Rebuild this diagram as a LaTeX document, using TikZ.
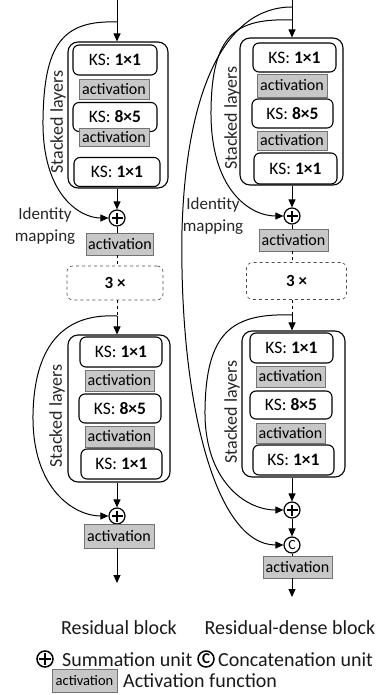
\documentclass[tikz,border=0pt]{standalone}
\usepackage{fontspec}
\setmainfont{Carlito}
\usetikzlibrary{arrows.meta}
\tikzset{
  ksbox/.style 2 args={draw, line width=1.1pt, rounded corners=6pt, fill=white, minimum width=#1, minimum height=#2, inner sep=0pt, font=\fontsize{17.5}{19}\selectfont},
  actbox/.style 2 args={draw=black!55, line width=0.8pt, fill=black!22, minimum width=#1, minimum height=#2, inner sep=0pt, font=\fontsize{16}{17}\selectfont},
  outerbox/.style 2 args={draw, line width=1.1pt, rounded corners=10pt, minimum width=#1, minimum height=#2, inner sep=0pt},
  repbox/.style 2 args={draw=black!70, dashed, line width=0.6pt, rounded corners=6pt, minimum width=#1, minimum height=#2, inner sep=0pt, font=\fontsize{17}{19}\selectfont\bfseries},
  unit/.style={circle, draw, line width=1.2pt, minimum size=16pt, inner sep=0pt, fill=white},
  stacklbl/.style={rotate=90, font=\fontsize{18}{20}\selectfont, text=black!85},
  idlbl/.style={align=center, font=\fontsize{17}{22}\selectfont, text=black!85},
  arr/.style={-{Triangle[length=8pt,width=7pt]}, line width=1pt},
  conn/.style={line width=1pt},
  dconn/.style={line width=0.8pt, dashed},
  legend/.style={font=\fontsize{20}{22}\selectfont, text=black!90}
}
\newcommand{\plusmark}[1]{\draw[line width=1.2pt] ([xshift=-5.5pt]#1.center) -- ([xshift=5.5pt]#1.center) ([yshift=-5.5pt]#1.center) -- ([yshift=5.5pt]#1.center);}
\begin{document}
\begin{tikzpicture}[x=1pt,y=-1pt]
\useasboundingbox (0,0) rectangle (384,695);

% ===== Left column, block 1 =====
\node[outerbox={100pt}{146pt}] (o1) at (118,115) {};
\node[ksbox={84pt}{30pt}] (k1a) at (115,60) {KS: \textbf{1×1}};
\node[actbox={70pt}{20pt}] (a1a) at (114,89) {activation};
\node[ksbox={84pt}{29pt}] (k1b) at (115,117) {KS: \textbf{8×5}};
\node[actbox={70pt}{18pt}] (a1b) at (114,137) {activation};
\node[ksbox={86pt}{29pt}] (k1c) at (117,172) {KS: \textbf{1×1}};
\node[stacklbl] (s1) at (58,122) {Stacked layers};
\node[unit] (p1) at (117,218) {};
\plusmark{p1}
\node[idlbl] (id1) at (45,226) {Identity\\mapping};
\node[actbox={67pt}{22pt}] (al1) at (120,244) {activation};
\node[repbox={96pt}{34pt}] (r1) at (115,283) {3 ×};

\coordinate (t1) at (117,0);
\coordinate (c1) at (117,22);
\draw[arr] (t1) -- (c1 |- o1.north);
\draw[arr] (c1) .. controls (62,20) and (44,45) .. (43,120) .. controls (42,195) and (80,218) .. (p1.west);
\draw[arr] (p1 |- o1.south) -- (p1.north);
\draw[conn] (p1.south) -- (p1 |- al1.north);
\draw[dconn] (p1 |- al1.south) -- (p1 |- r1.north);

% ===== Left column, block 2 =====
\node[outerbox={102pt}{147pt}] (o2) at (119,408.5) {};
\node[ksbox={82pt}{30pt}] (k2a) at (121,352) {KS: \textbf{1×1}};
\node[actbox={69pt}{21pt}] (a2a) at (119.5,380.5) {activation};
\node[ksbox={82pt}{29pt}] (k2b) at (120,408.5) {KS: \textbf{8×5}};
\node[actbox={69pt}{21pt}] (a2b) at (119.5,436.5) {activation};
\node[ksbox={81pt}{30pt}] (k2c) at (121.5,464) {KS: \textbf{1×1}};
\node[stacklbl] (s2) at (57,416) {Stacked layers};
\node[unit] (p2) at (117,516) {};
\plusmark{p2}
\node[actbox={70pt}{24pt}] (al2) at (119,536) {activation};
\coordinate (c2) at (117,316);
\coordinate (e1) at (117,583);
\draw[dconn] (p1 |- r1.south) -- (c2);
\draw[arr] (c2) -- (c2 |- o2.north);
\draw[arr] (c2) .. controls (60,313) and (34,350) .. (33,415) .. controls (32,490) and (75,516) .. (p2.west);
\draw[arr] (p2 |- o2.south) -- (p2.north);
\draw[arr] (p2 |- al2.south) -- (e1);

% ===== Right column, block 1 =====
\node[outerbox={103pt}{147pt}] (o3) at (291.5,111.5) {};
\node[ksbox={83pt}{29pt}] (k3a) at (294.5,57.5) {KS: \textbf{1×1}};
\node[actbox={70pt}{23pt}] (a3a) at (292,85.5) {activation};
\node[ksbox={81pt}{29pt}] (k3b) at (292.5,113.5) {KS: \textbf{8×5}};
\node[actbox={70pt}{19pt}] (a3b) at (292,140.5) {activation};
\node[ksbox={83pt}{31pt}] (k3c) at (295.5,168.5) {KS: \textbf{1×1}};
\node[stacklbl] (s3) at (232,118) {Stacked layers};
\node[unit] (p3) at (292,216) {};
\plusmark{p3}
\node[idlbl] (id2) at (213,216) {Identity\\mapping};
\node[actbox={69pt}{22pt}] (ar1) at (293.5,240) {activation};
\node[repbox={100pt}{37pt}] (r2) at (296.5,281) {3 ×};

\coordinate (t2) at (292,0);
\coordinate (c3) at (292,20);
\coordinate (c4) at (292,7);
\draw[arr] (t2) -- (t2 |- o3.north);
\draw[arr] (c3) .. controls (235,18) and (212,35) .. (211,110) .. controls (210,190) and (250,216) .. (p3.west);
\draw[arr] (p3 |- o3.south) -- (p3.north);
\draw[conn] (p3.south) -- (p3 |- ar1.north);
\draw[dconn] (p3 |- ar1.south) -- (p3 |- r2.north);

% ===== Right column, block 2 =====
\node[outerbox={103pt}{146pt}] (o4) at (293.5,404) {};
\node[ksbox={83pt}{30pt}] (k4a) at (291.5,348) {KS: \textbf{1×1}};
\node[actbox={69pt}{21pt}] (a4a) at (290.5,376.5) {activation};
\node[ksbox={82pt}{28pt}] (k4b) at (291,405) {KS: \textbf{8×5}};
\node[actbox={69pt}{20pt}] (a4b) at (290.5,433) {activation};
\node[ksbox={81pt}{30pt}] (k4c) at (293.5,460) {KS: \textbf{1×1}};
\node[stacklbl] (s4) at (232,412) {Stacked layers};
\node[unit] (p4) at (292,510) {};
\plusmark{p4}
\node[unit, font=\fontsize{14}{14}\selectfont] (cc) at (292,545) {C};
\node[actbox={69pt}{22pt}] (ar2) at (297.5,567) {activation};
\coordinate (c5) at (292,315);
\coordinate (e2) at (292,597);
\draw[dconn] (p3 |- r2.south) -- (c5);
\draw[arr] (c5) -- (c5 |- o4.north);
\draw[arr] (c5) .. controls (232,313) and (206,332) .. (205,410) .. controls (204,480) and (245,510) .. (p4.west);
\draw[arr] (p4 |- o4.south) -- (p4.north);
\draw[arr] (p4.south) -- (cc.north);
\draw[conn] (cc.south) -- (cc |- ar2.north);
\draw[arr] (cc |- ar2.south) -- (e2);
\draw[arr] (c4) .. controls (225,7) and (186,90) .. (182,230) .. controls (179,400) and (215,545) .. (cc.west);

% ===== Legend =====
\node[legend] (lb1) at (119,628) {Residual block};
\node[legend] (lb2) at (290,628) {Residual-dense block};
\node[unit, line width=1.5pt] (lp) at (45,659) {};
\draw[line width=1.6pt] ([xshift=-6pt]lp.center) -- ([xshift=6pt]lp.center) ([yshift=-6pt]lp.center) -- ([yshift=6pt]lp.center);
\node[legend, anchor=west, inner sep=0pt] (lps) at (62,660) {Summation unit};
\node[unit, line width=1.5pt, font=\fontsize{15}{15}\selectfont\bfseries] (lc) at (206,659) {C};
\node[legend, anchor=west, inner sep=0pt] (lcs) at (218,660) {Concatenation unit};
\node[actbox={65pt}{23pt}, font=\fontsize{14.5}{16}\selectfont] (la) at (84.5,680.5) {activation};
\node[legend, anchor=west, inner sep=0pt] (las) at (123,681) {Activation function};
\end{tikzpicture}
\end{document}
